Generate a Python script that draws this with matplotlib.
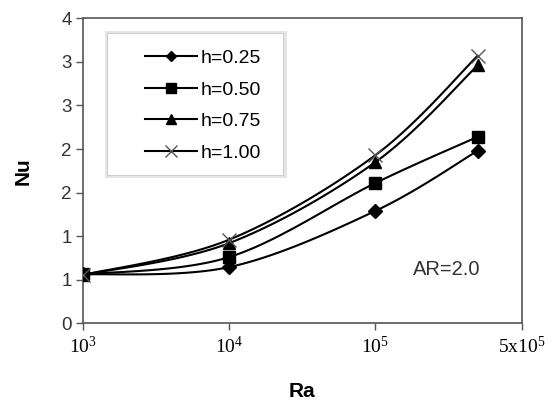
import numpy as np
import matplotlib
matplotlib.use("Agg")
import matplotlib.pyplot as plt
from matplotlib.lines import Line2D
from matplotlib.patches import Rectangle

plt.rcParams["font.family"] = ["Liberation Sans", "DejaVu Sans"]
plt.rcParams["mathtext.fontset"] = "custom"
plt.rcParams["mathtext.rm"] = "Liberation Serif"

# datos
ra = [1e3, 1e4, 1e5, 5e5]
nu_h025 = [0.56, 0.645, 1.29, 1.98]
nu_h050 = [0.56, 0.76, 1.61, 2.14]
nu_h075 = [0.555, 0.92, 1.85, 2.96]
nu_h100 = [0.555, 0.96, 1.93, 3.07]
labels = ["h=0.25", "h=0.50", "h=0.75", "h=1.00"]

x_ticks = [1e3, 1e4, 1e5, 1e6]
x_ticklabels = [r"$\mathrm{10^{3}}$", r"$\mathrm{10^{4}}$",
                r"$\mathrm{10^{5}}$", r"$\mathrm{5x10^{5}}$"]
y_ticks = [0, 0.5, 1.0, 1.5, 2.0, 2.5, 3.0, 3.5]
y_ticklabels = ["0", "1", "1", "2", "2", "3", "3", "4"]


def smooth(xs, ys, n=40):
    """Curva suavizada tipo Excel (Catmull-Rom) en espacio log10(x)."""
    px = np.log10(xs)
    py = np.asarray(ys, dtype=float)
    P = np.column_stack([px, py])
    out = []
    t = np.linspace(0, 1, n)[:, None]
    for i in range(len(P) - 1):
        p0 = P[max(i - 1, 0)]
        p1, p2 = P[i], P[i + 1]
        p3 = P[min(i + 2, len(P) - 1)]
        c1 = p1 + (p2 - p0) / 6
        c2 = p2 - (p3 - p1) / 6
        seg = ((1 - t) ** 3) * p1 + 3 * ((1 - t) ** 2) * t * c1 + 3 * (1 - t) * t ** 2 * c2 + t ** 3 * p2
        out.append(seg if i == 0 else seg[1:])
    out = np.vstack(out)
    return 10 ** out[:, 0], out[:, 1]


fig = plt.figure(figsize=(5.52, 4.03), dpi=100)
ax = fig.add_axes([0.1504, 0.1978, 0.7947, 0.7568])

styles = [
    dict(marker="D", ms=7.5, mfc="black", mec="black"),
    dict(marker="s", ms=8.5, mfc="black", mec="black"),
    dict(marker="^", ms=9, mfc="black", mec="black"),
    dict(marker="x", ms=9.5, mfc="none", mec="#555555", mew=1.0),
]
legend_ms = [5.5, 6.5, 7, 8]
series = [nu_h025, nu_h050, nu_h075, nu_h100]

handles = []
for ys, st, lab, lms in zip(series, styles, labels, legend_ms):
    cx, cy = smooth(ra, ys)
    ax.plot(cx, cy, color="black", lw=1.5, zorder=3)
    ax.plot(ra, ys, ls="none", zorder=4, **st)
    hst = dict(st, ms=lms)
    handles.append(Line2D([], [], color="black", lw=1.5, label=lab, **hst))

ax.set_xscale("log")
ax.set_xlim(1e3, 1e6)
ax.set_ylim(0, 3.5)
ax.set_xticks(x_ticks)
ax.set_xticklabels(x_ticklabels, fontsize=14)
ax.minorticks_off()
ax.set_yticks(y_ticks)
ax.set_yticklabels(y_ticklabels, fontsize=13.5, color="#333333")
ax.tick_params(direction="out", length=5, width=1, color="#555555", pad=3)
ax.tick_params(axis="x", pad=4)
for sp in ax.spines.values():
    sp.set_color("#555555")
    sp.set_linewidth(1.2)

ax.set_xlabel("Ra", fontsize=15, fontweight="bold", labelpad=18)
ax.set_ylabel("Nu", fontsize=15, fontweight="bold", labelpad=21)

# marco de la leyenda con sombra suave
lx0, ly0, lw_, lh_ = 0.055, 0.487, 0.401, 0.465
ax.add_patch(Rectangle((lx0 - 0.006, ly0 - 0.012), lw_ + 0.014, lh_ + 0.018, transform=ax.transAxes,
                       facecolor="#e6e6e6", edgecolor="none", zorder=5))
ax.add_patch(Rectangle((lx0, ly0), lw_, lh_, transform=ax.transAxes,
                       facecolor="white", edgecolor="#cfcfcf", lw=0.8, zorder=6))
leg = ax.legend(handles=handles, loc="upper left", bbox_to_anchor=(0.118, 0.93),
                frameon=False, fontsize=14, handlelength=2.7, handletextpad=0.2,
                labelspacing=0.72, borderpad=0.0)
leg.set_zorder(7)

ax.text(0.83, 0.175, "AR=2.0", transform=ax.transAxes, fontsize=14.5,
        color="#333333", ha="center", va="center")

fig.savefig("out.png", dpi=100)
